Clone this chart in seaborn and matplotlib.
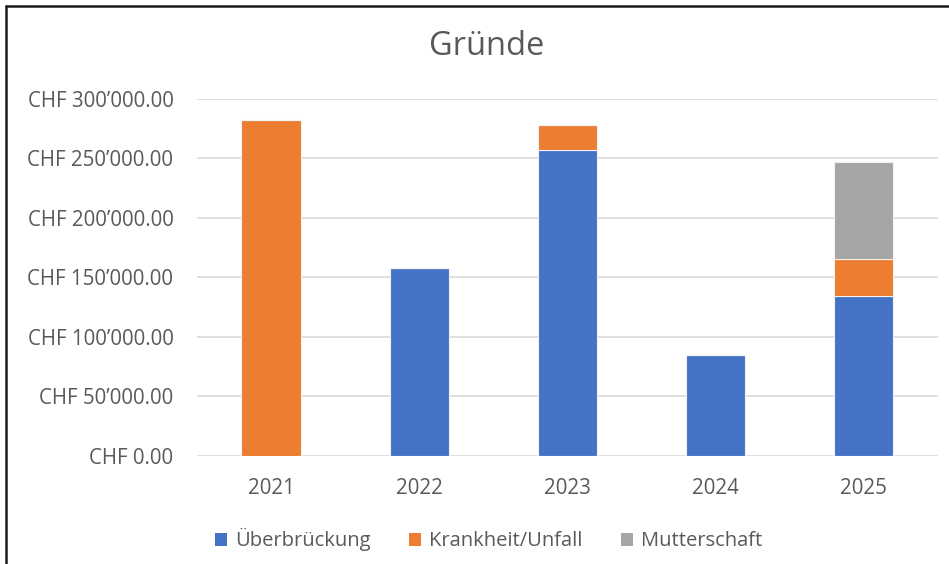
import numpy as np
import pandas as pd
import seaborn as sns
from matplotlib import pyplot as plt
from matplotlib.ticker import FuncFormatter
from matplotlib.lines import Line2D
from matplotlib.patches import Patch

# data (CHF)
years = ["2021", "2022", "2023", "2024", "2025"]
ueberbrueckung = [0, 158000, 257000, 85000, 134500]
krankheit = [282500, 0, 21000, 0, 31000]
mutterschaft = [0, 0, 0, 0, 81500]

series = ["Überbrückung", "Krankheit/Unfall", "Mutterschaft"]
colors = ["#4472C4", "#ED7D31", "#A5A5A5"]

sns.set_style("white")
plt.rcParams["font.family"] = ["Open Sans", "DejaVu Sans"]
grey = "#595959"

fig = plt.figure(figsize=(9.49, 5.64), dpi=100)
ax = fig.add_axes([0.2076, 0.1915, 0.7804, 0.633])

bottom = np.zeros(len(years))
for name, vals, col in zip(series, [ueberbrueckung, krankheit, mutterschaft], colors):
    sns.barplot(x=years, y=vals, bottom=bottom, color=col, saturation=1, width=0.4,
                edgecolor="#f2f2f2", linewidth=0.8, ax=ax, zorder=3)
    bottom = bottom + np.array(vals)

ax.set_ylim(0, 300000)
ax.set_xlim(-0.5, 4.5)
ax.set_yticks(range(0, 300001, 50000))
ax.yaxis.set_major_formatter(FuncFormatter(
    lambda v, p: "CHF " + f"{v:,.2f}".replace(",", "\u2019")))
ax.grid(axis="y", color="#D9D9D9", linewidth=1.2, zorder=0)
ax.set_axisbelow(True)
sns.despine(ax=ax, left=True, bottom=True)
ax.tick_params(axis="y", length=0, pad=17, labelsize=14.8, labelcolor=grey)
ax.tick_params(axis="x", length=0, pad=16, labelsize=14.8, labelcolor=grey)
ax.set_xlabel("")
ax.set_ylabel("")

fig.text(0.513, 0.918, "Gründe", ha="center", va="center", fontsize=23.5, color=grey)

handles = [Patch(facecolor=c, edgecolor="none") for c in colors]
fig.legend(handles, series, loc="center", bbox_to_anchor=(0.515, 0.043), ncol=3,
           frameon=False, fontsize=14.5, labelcolor=grey, handlelength=0.6,
           handleheight=0.6, handletextpad=0.4, columnspacing=1.9)

# frame of the screenshot
fig.add_artist(Line2D([0.0068, 0.0068], [0, 0.9894], color="#1a1a1a", linewidth=1.8,
                      transform=fig.transFigure))
fig.add_artist(Line2D([0.0068, 1], [0.9894, 0.9894], color="#1a1a1a", linewidth=1.8,
                      transform=fig.transFigure))

fig.savefig("out.png", dpi=100)
